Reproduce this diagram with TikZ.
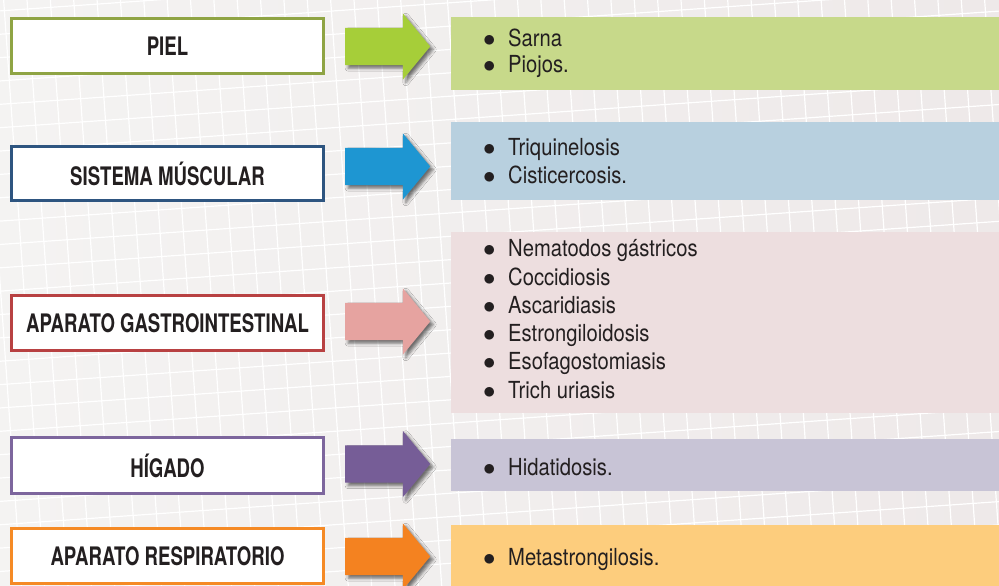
\documentclass[tikz,border=0pt]{standalone}
\usepackage{fontspec}
\setmainfont{TeX Gyre Heros}[FakeStretch=0.86, BoldFeatures={FakeStretch=0.73}]
\usepackage{tikz}
\usetikzlibrary{shapes.arrows, shadows.blur, positioning}
\definecolor{bgpaper}{RGB}{244, 243, 242}
\definecolor{bgpink}{RGB}{238, 233, 233}
\definecolor{inkdark}{RGB}{35, 31, 32}
\definecolor{pielline}{RGB}{143, 164, 68}
\definecolor{pielarrow}{RGB}{166, 206, 57}
\definecolor{pielfill}{RGB}{199, 217, 138}
\definecolor{muscline}{RGB}{46, 85, 128}
\definecolor{muscarrow}{RGB}{30, 150, 210}
\definecolor{muscfill}{RGB}{184, 208, 223}
\definecolor{gastline}{RGB}{184, 65, 66}
\definecolor{gastarrow}{RGB}{230, 163, 160}
\definecolor{gastfill}{RGB}{237, 222, 223}
\definecolor{higline}{RGB}{125, 102, 157}
\definecolor{higarrow}{RGB}{118, 93, 151}
\definecolor{higfill}{RGB}{200, 196, 214}
\definecolor{respline}{RGB}{245, 138, 37}
\definecolor{resparrow}{RGB}{244, 130, 32}
\definecolor{respfill}{RGB}{253, 205, 125}

\begin{document}
\begin{tikzpicture}[
    x=1pt, y=-1pt,
    organ/.style={rectangle, draw=#1, fill=white, line width=3pt,
                  minimum width=312pt, inner sep=0pt, text=inkdark,
                  font=\fontsize{25.5}{26}\selectfont\bfseries},
    findings/.style={rectangle, fill=#1, minimum width=550pt, inner sep=0pt},
    fatarrow/.style={single arrow, fill=#1, inner xsep=0pt, inner ysep=18.5pt,
                     minimum height=85pt, single arrow head extend=14.5pt,
                     single arrow tip angle=101, anchor=tail,
                     blur shadow={shadow xshift=3pt, shadow yshift=-3pt,
                                  shadow blur radius=3pt, shadow opacity=55}},
    item/.style={anchor=base west, inner sep=0pt, text=inkdark,
                 font=\fontsize{23.5}{28}\selectfont},
    gridline/.style={white, line width=1.2pt}
]
\useasboundingbox (0,0) rectangle (999,586);

%% -- background paper with grid -------------------------------------------
\shade[left color=bgpaper, right color=bgpink] (0,0) rectangle (999,586);
\begin{scope}
  \clip (0,0) rectangle (999,586);
  \begin{scope}[rotate around={4:(500,293)}]
    \foreach \k in {-8,...,52}
      \draw[gridline] (\k*23.3+2, -150) -- (\k*23.3+2, 750);
    \foreach \k in {-10,...,35}
      \draw[gridline] (-150, \k*23.3) -- (1150, \k*23.3);
  \end{scope}
\end{scope}

%% -- organ boxes ----------------------------------------------------------
\node[organ=pielline, minimum height=55pt] (piel) at (167.5, 46) {PIEL};
\node[organ=muscline, minimum height=54pt] (musc) at (167.5, 173.5) {SISTEMA MÚSCULAR};
\node[organ=gastline, minimum height=55pt] (gast) at (167.5, 323) {APARATO GASTROINTESTINAL};
\node[organ=higline,  minimum height=56pt] (hig)  at (167.5, 465.5) {HÍGADO};
\node[organ=respline, minimum height=55pt] (resp) at (167.5, 556) {APARATO RESPIRATORIO};

%% -- findings boxes -------------------------------------------------------
\node[findings=pielfill, minimum height=73pt]  (pielbox) at (726, 53.5) {};
\node[findings=muscfill, minimum height=78pt]  (muscbox) at (726, 161) {};
\node[findings=gastfill, minimum height=181pt] (gastbox) at (726, 322.5) {};
\node[findings=higfill,  minimum height=52pt]  (higbox)  at (726, 465) {};
\node[findings=respfill, minimum height=66pt]  (respbox) at (726, 558) {};

%% -- arrows ---------------------------------------------------------------
\node[fatarrow=pielarrow] (pielarr) at (345, 46.5) {};
\node[fatarrow=muscarrow] (muscarr) at (345, 166.5) {};
\node[fatarrow=gastarrow] (gastarr) at (345, 321.5) {};
\node[fatarrow=higarrow]  (higarr)  at (345, 464) {};
\node[fatarrow=resparrow] (resparr) at (345, 556.5) {};

%% -- lists ----------------------------------------------------------------
\newcommand{\bul}[1]{\makebox[25pt][l]{$\bullet$}#1}
\foreach \t [count=\i from 0] in {Sarna, Piojos.}
  \node[item] (piel\i) at (483, 46.7+26*\i) {\bul{\t}};
\foreach \t [count=\i from 0] in {Triquinelosis, Cisticercosis.}
  \node[item] (musc\i) at (483, 155+28.3*\i) {\bul{\t}};
\foreach \t [count=\i from 0] in {Nematodos gástricos, Coccidiosis, Ascaridiasis,
    Estrongiloidosis, Esofagostomiasis, Trich\ uriasis}
  \node[item] (gast\i) at (483, 256.7+28.3*\i) {\bul{\t}};
\node[item] (hig0)  at (483, 475) {\bul{Hidatidosis.}};
\node[item] (resp0) at (483, 565.7) {\bul{Metastrongilosis.}};

\end{tikzpicture}
\end{document}
